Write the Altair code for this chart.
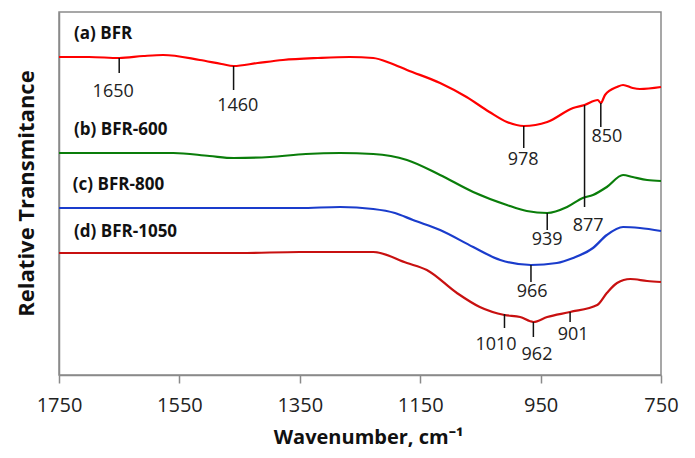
import altair as alt
import pandas as pd

# ---- spectra (wavenumber, relative transmittance offset units) ----
a_wn = [1750, 1700, 1650, 1610, 1577, 1516, 1480, 1460, 1420, 1378, 1320, 1267, 1228, 1200, 1172, 1117, 1073, 1035, 1006, 978, 939, 896, 877, 855, 850, 843, 823, 813, 797, 785, 750]
a_val = [318, 318, 317, 319, 320, 315, 311, 309, 312, 315, 317, 318, 317, 312, 305, 292, 278, 263, 253, 249, 253, 267, 270, 275, 272, 280, 288, 290, 287, 286, 288]

b_wn = [1750, 1650, 1560, 1500, 1460, 1400, 1340, 1283, 1228, 1172, 1117, 1062, 1006, 973, 939, 906, 880, 863, 840, 813, 797, 773, 750]
b_val = [222, 222, 222, 219, 217, 218, 221, 222, 221, 215, 200, 183, 170, 164, 162, 168, 177, 180, 188, 200, 198, 195, 194]

c_wn = [1750, 1650, 1550, 1450, 1350, 1283, 1228, 1192, 1162, 1117, 1062, 1017, 966, 923, 896, 863, 840, 813, 785, 750]
c_val = [167, 167, 167, 167, 167, 168, 166, 162, 155, 145, 128, 115, 110, 112, 117, 127, 140, 148, 147, 144]

d_wn = [1750, 1650, 1550, 1450, 1350, 1283, 1228, 1172, 1139, 1089, 1051, 1010, 984, 962, 939, 901, 856, 840, 823, 801, 773, 750]
d_val = [122, 122, 122, 122, 123, 123, 123, 112, 105, 82, 68, 60, 58, 53, 58, 63, 70, 82, 92, 96, 94, 93]

series_names = ["(a) BFR", "(b) BFR-600", "(c) BFR-800", "(d) BFR-1050"]
series_colors = ["#ff0000", "#0a7d0a", "#1a3ccc", "#c81010"]

# ---- series labels ----
label_wn = [1725, 1725, 1727, 1725]
label_val = [341, 245, 190, 143]

# ---- peak annotations ----
peak_wn = [1650, 1460, 978, 877, 850, 939, 966, 1010, 962, 901]
peak_y1 = [317, 309, 249, 270, 272, 162, 110, 61, 53, 63]
peak_y2 = [302, 285, 227, 168, 248, 145, 93, 47, 38, 53]
peak_text = ["1650", "1460", "978", "877", "850", "939", "966", "1010", "962", "901"]
peak_label_wn = [1660, 1453, 979, 871, 840, 939, 964, 1024, 956, 896]
peak_label_val = [283, 269, 215, 149, 238, 135, 83, 30, 20, 40]

x_ticks = [1750, 1550, 1350, 1150, 950, 750]

rows = []
for name, wns, vals in zip(series_names, [a_wn, b_wn, c_wn, d_wn], [a_val, b_val, c_val, d_val]):
    for w, v in zip(wns, vals):
        rows.append({"series": name, "wn": w, "val": v})
df = pd.DataFrame(rows)

df_lab = pd.DataFrame({"series": series_names, "wn": label_wn, "val": label_val})
df_peak = pd.DataFrame({"wn": peak_wn, "y1": peak_y1, "y2": peak_y2})
df_ptxt = pd.DataFrame({"text": peak_text, "wn": peak_label_wn, "val": peak_label_val})

FONT = "Open Sans"
GRAY = "#8a8a8a"

xscale = alt.Scale(domain=[750, 1750], reverse=True, nice=False, zero=False)
yscale = alt.Scale(domain=[0, 363], nice=False, zero=False)

xaxis = alt.Axis(
    values=x_ticks, format="d", title="Wavenumber, cm⁻¹", grid=False,
    labelFont=FONT, labelFontSize=20, labelColor="#222222", labelPadding=12,
    tickSize=8, tickColor=GRAY, domainColor=GRAY, domainWidth=1.5, tickWidth=1.5,
    titleFont=FONT, titleFontSize=20, titleFontWeight="bold", titleColor="#111111",
    titleY=62, titleX=309, titleBaseline="middle", titleAlign="center",
    labelFlush=False,
)
yaxis = alt.Axis(
    title="Relative Transmitance", labels=False, ticks=False, grid=False,
    domainColor=GRAY, domainWidth=1.5,
    titleFont=FONT, titleFontSize=22, titleFontWeight="bold", titleColor="#111111",
    titleAngle=-90, titleX=-33, titleY=181, titleBaseline="middle", titleAlign="center",
)

lines = alt.Chart(df).mark_line(strokeWidth=2.2, interpolate="monotone").encode(
    x=alt.X("wn:Q", scale=xscale, axis=xaxis),
    y=alt.Y("val:Q", scale=yscale, axis=yaxis),
    color=alt.Color("series:N", scale=alt.Scale(domain=series_names, range=series_colors), legend=None),
    detail="series:N",
)

rules = alt.Chart(df_peak).mark_rule(color="#111111", strokeWidth=1.5).encode(
    x=alt.X("wn:Q", scale=xscale),
    y=alt.Y("y1:Q", scale=yscale),
    y2="y2:Q",
)

ptxt = alt.Chart(df_ptxt).mark_text(font=FONT, fontSize=18, color="#222222", baseline="middle").encode(
    x=alt.X("wn:Q", scale=xscale),
    y=alt.Y("val:Q", scale=yscale),
    text="text:N",
)

labs = alt.Chart(df_lab).mark_text(font=FONT, fontSize=17, fontWeight="bold", color="#111111",
                                   align="left", baseline="middle").encode(
    x=alt.X("wn:Q", scale=xscale),
    y=alt.Y("val:Q", scale=yscale),
    text="series:N",
)

chart = alt.layer(lines, rules, ptxt, labs).properties(
    width=602, height=363,
    autosize=alt.AutoSizeParams(type="none"),
    padding={"left": 51, "top": 4, "right": 26, "bottom": 74},
).configure_view(stroke=GRAY, strokeWidth=1.5)

chart.save("out.html", embed_options={"renderer": "svg", "actions": False})
